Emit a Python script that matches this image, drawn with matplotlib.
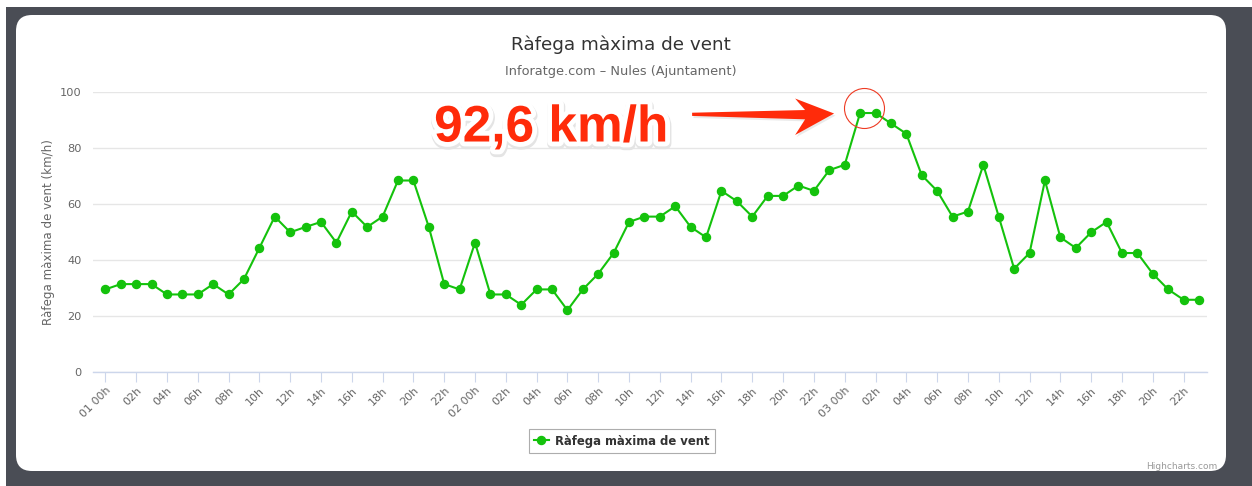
import numpy as np
import matplotlib
matplotlib.use("Agg")
import matplotlib.pyplot as plt
import matplotlib.patheffects as pe
import matplotlib.transforms as mtransforms
from matplotlib.patches import FancyBboxPatch, Rectangle, Polygon
from matplotlib.lines import Line2D

# hourly wind gust (km/h), days 01..03, 00h..23h
day1 = [29.6, 31.5, 31.5, 31.5, 27.8, 27.8, 27.8, 31.5, 27.8, 33.3, 44.4, 55.6,
        50.0, 51.9, 53.7, 46.3, 57.4, 51.9, 55.6, 68.5, 68.5, 51.9, 31.5, 29.6]
day2 = [46.3, 27.8, 27.8, 24.1, 29.6, 29.6, 22.2, 29.6, 35.2, 42.6, 53.7, 55.6,
        55.6, 59.3, 51.9, 48.2, 64.8, 61.1, 55.6, 63.0, 63.0, 66.7, 64.8, 72.2]
day3 = [74.1, 92.6, 92.6, 88.9, 85.2, 70.4, 64.8, 55.6, 57.4, 74.1, 55.6, 37.0,
        42.6, 68.5, 48.2, 44.4, 50.0, 53.7, 42.6, 42.6, 35.2, 29.6, 25.9, 25.9]
days = ["01", "02", "03"]

values = day1 + day2 + day3
hours = np.arange(len(values))
tick_pos = hours[::2]
tick_labels = [f"{days[h // 24]} 00h" if h % 24 == 0 else f"{h % 24:02d}h" for h in tick_pos]

title = "Ràfega màxima de vent"
subtitle = "Inforatge.com \u2013 Nules (Ajuntament)"
series_name = "Ràfega màxima de vent"
y_label = "Ràfega màxima de vent (km/h)"

green = "#14c20c"
red = "#ff2b0a"
dark = "#4a4d55"

W, H = 1252, 486
fig = plt.figure(figsize=(W / 100, H / 100), dpi=100)
fig.patch.set_facecolor("white")

# background frame in pixel units
bg = fig.add_axes([0, 0, 1, 1], zorder=-1)
bg.set_xlim(0, W)
bg.set_ylim(H, 0)
bg.axis("off")
bg.add_patch(Rectangle((6, 7), W - 6, H - 7, color=dark, lw=0))
bg.add_patch(FancyBboxPatch((16, 15), 1210, 456, boxstyle="round,pad=0,rounding_size=16",
                            fc="white", ec="none"))

# plot area
x0, x1, ytop, ybot = 93, 1207, 92.3, 372.3
ax = fig.add_axes([x0 / W, (H - ybot) / H, (x1 - x0) / W, (ybot - ytop) / H])
ax.patch.set_alpha(0)
ax.set_xlim(-0.8, 71.52)
ax.set_ylim(0, 100)
ax.set_yticks(np.arange(0, 101, 20))
ax.grid(axis="y", color="#e6e6e6", lw=1)
ax.set_axisbelow(True)
for s in ["left", "top", "right"]:
    ax.spines[s].set_visible(False)
ax.spines["bottom"].set_color("#ccd6eb")
ax.spines["bottom"].set_linewidth(1)
ax.tick_params(axis="y", length=0, pad=8, labelsize=8.2, labelcolor="#666666")
ax.tick_params(axis="x", length=7.2, width=0.8, color="#ccd6eb", pad=2,
               labelsize=8, labelcolor="#666666")
ax.set_xticks(tick_pos)
ax.set_xticklabels(tick_labels, rotation=45, ha="right", rotation_mode="anchor")
ax.set_ylabel(y_label, fontsize=8.6, color="#666666", labelpad=4)

ax.plot(hours, values, color=green, lw=1.5, marker="o", ms=5.8, mec=green, mfc=green,
        clip_on=False, zorder=3)

# annotation: peak value
pk = int(np.argmax(values))
pv = values[pk]
label = f"{pv:.1f}".replace(".", ",") + " km/h"
ax.annotate(label, xy=(pk, pv), xytext=(-309, -28.5), textcoords="offset pixels",
            ha="center", va="baseline", fontsize=37, fontweight="bold",
            family="Liberation Sans", color=red, zorder=5, annotation_clip=False,
            path_effects=[pe.Stroke(linewidth=8, foreground="#e4e4e4", offset=(0.5, -1.5)),
                          pe.Stroke(linewidth=7, foreground="white"), pe.Normal()])

anchor = mtransforms.ScaledTranslation(pk, pv, ax.transData)
tip = np.array([-26, -0.5])
arrow_shape = np.array([[0, 0], [-39, 15], [-29, 3.5], [-142, 0.8], [-142, -2.4],
                        [-29, -5.8], [-39, -21.5]]) + tip
ax.add_patch(Polygon(arrow_shape, closed=True, transform=anchor, fc=red, ec="none",
                     clip_on=False, zorder=5,
                     path_effects=[pe.withSimplePatchShadow(offset=(1, -1.5), shadow_rgbFace="#cccccc", alpha=0.4)]))

circ = ax.transData + mtransforms.ScaledTranslation(3.5 / 100, 5.5 / 100, fig.dpi_scale_trans)
ax.plot([pk], [pv], marker="o", ms=28.8, mfc="none", mec="#ee3b23", mew=0.8,
        transform=circ, clip_on=False, zorder=6)

# titles
fig.text(621 / W, 1 - 45 / H, title, ha="center", va="center", fontsize=13.2, color="#333333")
fig.text(621 / W, 1 - 72 / H, subtitle, ha="center", va="center", fontsize=9.3, color="#666666")
fig.text(1217 / W, 1 - 466 / H, "Highcharts.com", ha="right", va="center", fontsize=6.5,
         color="#999999")

# legend
handle = Line2D([], [], color=green, lw=1.5, marker="o", ms=5.8)
leg = fig.legend([handle], [series_name], loc="center", bbox_to_anchor=(621.5 / W, 1 - 441 / H),
                 frameon=True, fancybox=False, edgecolor="#999999", handlelength=1.3,
                 handletextpad=0.5, borderpad=0.45, prop={"size": 8.4, "weight": "bold"})
leg.get_frame().set_linewidth(0.8)
for t in leg.get_texts():
    t.set_color("#333333")

fig.savefig("out.png", dpi=100, facecolor="white")
